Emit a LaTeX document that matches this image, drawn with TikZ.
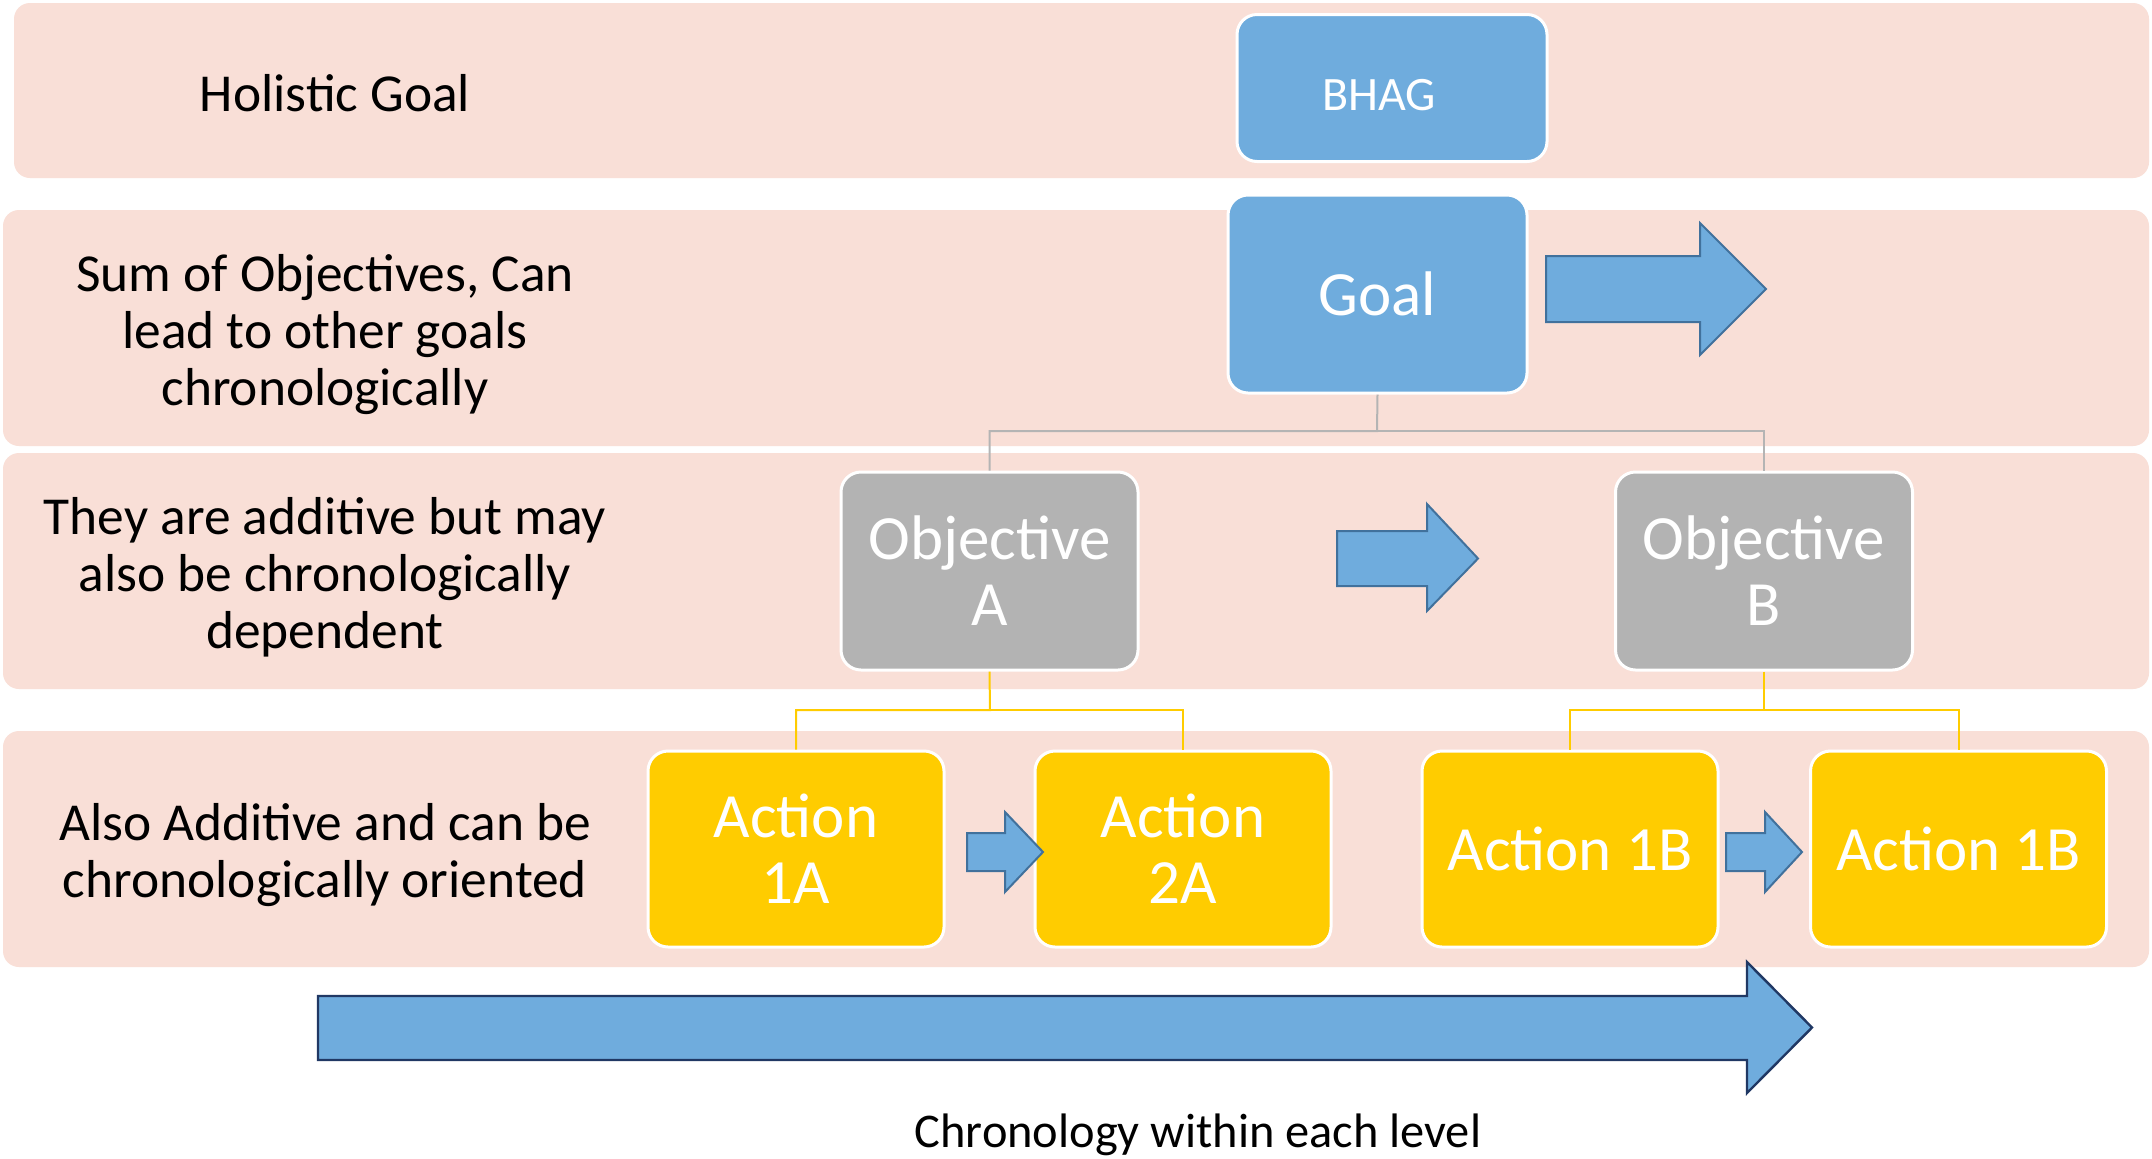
\documentclass[tikz,border=0pt]{standalone}
\usepackage{fontspec}
\setmainfont{Carlito}
\definecolor{band}{RGB}{249,223,215}
\definecolor{bluef}{RGB}{111,172,221}
\definecolor{blueb}{RGB}{65,113,156}
\definecolor{navy}{RGB}{32,56,100}
\definecolor{grayf}{RGB}{179,179,179}
\definecolor{yel}{RGB}{255,204,0}
\definecolor{conn}{RGB}{180,180,180}
\begin{document}
\begin{tikzpicture}[x=0.5pt,y=-0.5pt,
  bandbox/.style={fill=band,draw=none,rounded corners=8pt},
  box/.style={draw=white,line width=1.5pt,rounded corners=10pt,text=white,align=center,inner sep=0pt,font=\fontsize{31.5}{33}\selectfont},
  lefttext/.style={align=center,font=\fontsize{26.7}{28.5}\selectfont,text=black},
  shapearrow/.style={fill=bluef,draw=blueb,line width=1pt,line join=miter},
  gline/.style={draw=conn,line width=1pt},
  yline/.style={draw=yel,line width=1pt}]
\useasboundingbox (0,0) rectangle (2152,1158);
\fill[white] (0,0) rectangle (2152,1158);
% bands
\path[bandbox] (14,3) rectangle (2149,178);
\path[bandbox] (3,210) rectangle (2149,446);
\path[bandbox] (3,453) rectangle (2149,689);
\path[bandbox] (3,731) rectangle (2149,967);
% left labels
\node[lefttext] (l1) at (335,93) {Holistic Goal};
\node[lefttext] (l2) at (325,335) {Sum of Objectives, Can\\lead to other goals\\chronologically};
\node[lefttext] (l3) at (325,577) {They are additive but may\\also be chronologically\\dependent};
\node[lefttext] (l4) at (325,855) {Also Additive and can be\\chronologically oriented};
% boxes
\node[box,fill=bluef,minimum width=155pt,minimum height=73.5pt] (bhag) at (1392,88) {};
\node[text=white,font=\fontsize{24}{26}\selectfont] (bhagt) at (1379,95) {BHAG};
\node[box,fill=bluef,minimum width=149.5pt,minimum height=99pt] (goal) at (1377.5,294) {Goal};
\node[box,fill=grayf,minimum width=148.5pt,minimum height=99pt] (oa) at (989.5,571) {Objective\\A};
\node[box,fill=grayf,minimum width=148.5pt,minimum height=99pt] (ob) at (1764,571) {Objective\\B};
\node[box,fill=yel,minimum width=148pt,minimum height=98pt] (a1) at (796,849) {Action\\1A};
\node[box,fill=yel,minimum width=148pt,minimum height=98pt] (a2) at (1183,849) {Action\\2A};
\node[box,fill=yel,minimum width=148pt,minimum height=98pt] (b1) at (1570,849) {Action 1B};
\node[box,fill=yel,minimum width=148pt,minimum height=98pt] (b2) at (1958.5,849) {Action 1B};
% connectors
\coordinate (gy) at (1377,431);
\draw[gline] (goal.south) -- (gy) -| (oa.north);
\draw[gline] (gy) -| (ob.north);
\coordinate (ay) at (990,710);
\draw[yline] (oa.south) -- (ay) -| (a1.north);
\draw[yline] (ay) -| (a2.north);
\coordinate (by) at (1764,710);
\draw[yline] (ob.south) -- (by) -| (b1.north);
\draw[yline] (by) -| (b2.north);
% block arrows
\draw[shapearrow] (1546,256) -- (1700,256) -- (1700,223) -- (1766,289) -- (1700,355) -- (1700,322) -- (1546,322) -- cycle;
\draw[shapearrow] (1337,531) -- (1427,531) -- (1427,504) -- (1478,558.5) -- (1427,611) -- (1427,586) -- (1337,586) -- cycle;
\draw[shapearrow] (967,833) -- (1005,833) -- (1005,812) -- (1043,852) -- (1005,892) -- (1005,871) -- (967,871) -- cycle;
\draw[shapearrow] (1726,833) -- (1765,833) -- (1765,812) -- (1802,852) -- (1765,892) -- (1765,871) -- (1726,871) -- cycle;
\draw[shapearrow,draw=navy,line width=1.2pt] (318,996) -- (1747,996) -- (1747,962) -- (1812,1027.5) -- (1747,1093) -- (1747,1060) -- (318,1060) -- cycle;
\node[lefttext,font=\fontsize{24.2}{27}\selectfont] (chron) at (1198,1135) {Chronology within each level};
\end{tikzpicture}
\end{document}
